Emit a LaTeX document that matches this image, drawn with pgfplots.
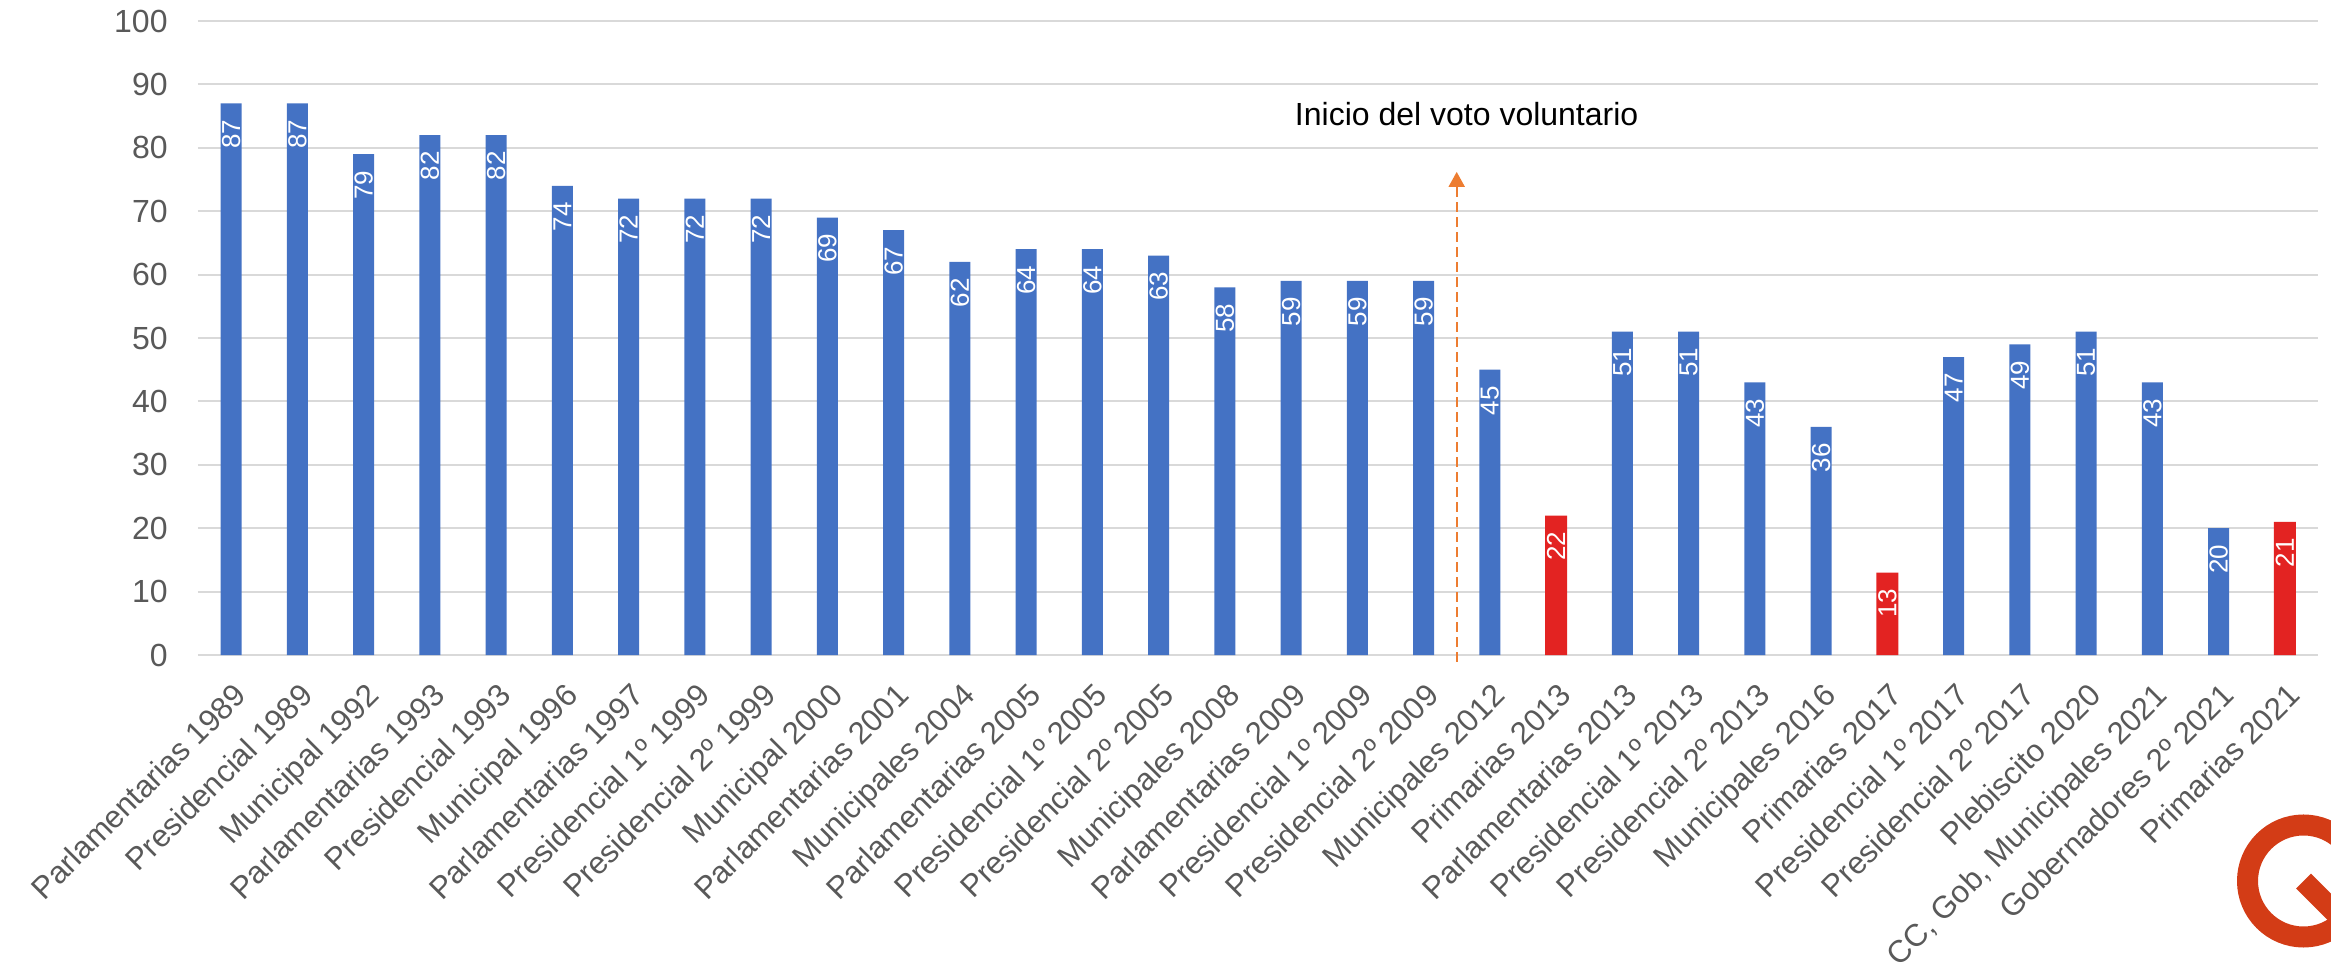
\documentclass[border=0pt]{standalone}
\usepackage{fontspec}
\setmainfont{Liberation Sans}
\usepackage{pgfplots}
\usepackage{pgfplotstable}
\pgfplotsset{compat=1.18}
\usetikzlibrary{arrows.meta}
\definecolor{barblue}{HTML}{4472C4}
\definecolor{barred}{HTML}{E32322}
\definecolor{gridgrey}{HTML}{D9D9D9}
\definecolor{tickgrey}{HTML}{595959}
\definecolor{arrowor}{HTML}{ED7D31}
\definecolor{logored}{HTML}{D33C16}

\pgfplotstableread{
x y
0 87
1 87
2 79
3 82
4 82
5 74
6 72
7 72
8 72
9 69
10 67
11 62
12 64
13 64
14 63
15 58
16 59
17 59
18 59
19 45
21 51
22 51
23 43
24 36
26 47
27 49
28 51
29 43
30 20
}\bluedata

\pgfplotstableread{
x y
20 22
25 13
31 21
}\reddata

\begin{document}
\begin{tikzpicture}
\begin{axis}[
  name=ax, at={(0,0)}, anchor=south west,
  scale only axis, width=1060pt, height=317pt,
  xmin=-0.5, xmax=31.5, ymin=0, ymax=100,
  ytick={0,10,...,100},
  xtick={0,...,31},
  xticklabels={Parlamentarias 1989, Presidencial 1989, Municipal 1992, Parlamentarias 1993, Presidencial 1993, Municipal 1996, Parlamentarias 1997, Presidencial 1º 1999, Presidencial 2º 1999, Municipal 2000, Parlamentarias 2001, Municipales 2004, Parlamentarias 2005, Presidencial 1º 2005, Presidencial 2º 2005, Municipales 2008, Parlamentarias 2009, Presidencial 1º 2009, Presidencial 2º 2009, Municipales 2012, Primarias 2013, Parlamentarias 2013, Presidencial 1º 2013, Presidencial 2º 2013, Municipales 2016, Primarias 2017, Presidencial 1º 2017, Presidencial 2º 2017, Plebiscito 2020, {CC, Gob, Municipales 2021}, Gobernadores 2º 2021, Primarias 2021},
  axis line style={draw=none},
  major tick length=0pt,
  ymajorgrids,
  grid style={gridgrey, line width=1pt},
  /pgf/number format/assume math mode=true,
  tick label style={font=\fontsize{16}{19}\selectfont, text=tickgrey},
  yticklabel style={anchor=east, inner sep=0pt, xshift=-15pt},
  xticklabel style={font=\fontsize{15.6}{18}\selectfont, yshift=-13pt, xshift=0.5pt, rotate=45, anchor=north east, inner sep=0pt},
  clip=false,
  ybar, bar width=10.5pt, bar shift=0pt,
  nodes near coords,
  every node near coord/.append style={font=\fontsize{13}{15}\selectfont, text=white, yshift=-8pt, rotate=90, anchor=east, inner sep=0pt},
]
\addplot[fill=barblue, draw=none] table[x=x, y=y] {\bluedata};
\addplot[fill=barred, draw=none, bar width=11pt] table[x=x, y=y] {\reddata};
\draw[arrowor, line width=1pt, dash pattern=on 5pt off 2.5pt, -{Triangle[width=8pt,length=7.5pt]}] (axis cs:18.5,-1.1) -- (axis cs:18.5,76.2);
\node[font=\fontsize{16}{19}\selectfont, text=black, inner sep=0pt] at (axis cs:18.65,85.3) {Inicio del voto voluntario};
\end{axis}
\draw[logored, line width=10.5pt] (1052.75pt,-113pt) circle (28pt);
\draw[logored, line width=10.5pt] (1052.75pt,-113pt) -- ++(-45:45pt);
\pgfresetboundingbox
\path[use as bounding box] (-99pt,-157pt) rectangle (1066.5pt,327.5pt);
\end{tikzpicture}
\end{document}
